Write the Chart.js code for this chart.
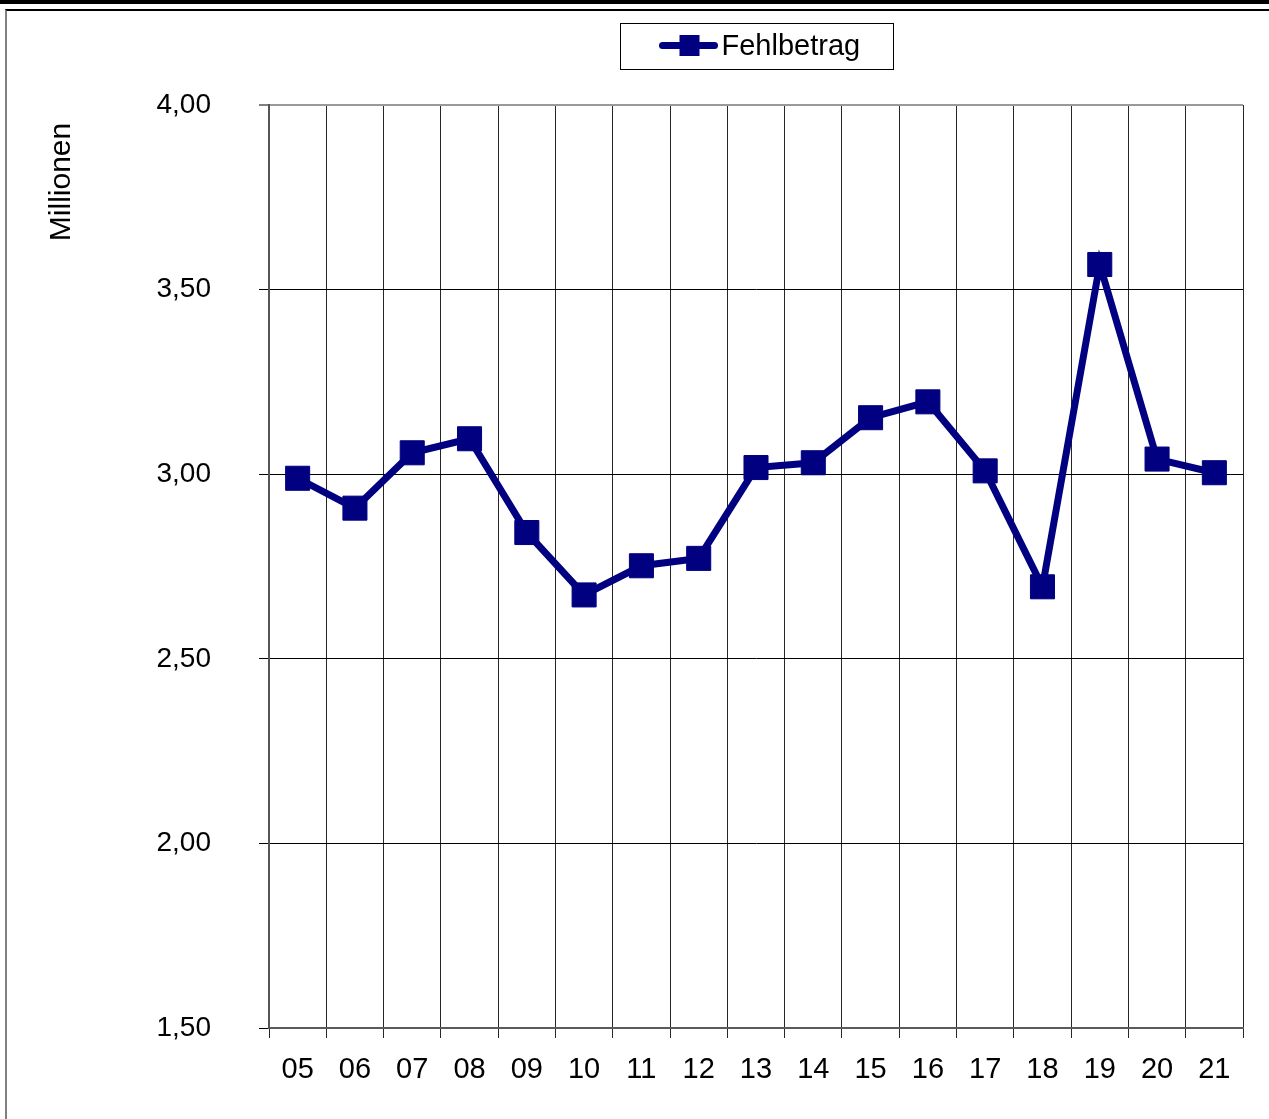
<!DOCTYPE html>
<html lang="de">
<head>
  <meta charset="UTF-8">
  <title>Fehlbetrag</title>
  <script src="https://cdn.jsdelivr.net/npm/chart.js"></script>
  <style>
    html, body { margin: 0; padding: 0; background: #fff; }
    #wrap { position: relative; width: 1269px; height: 1119px; overflow: hidden; }
    #topbar { position: absolute; left: 0; top: 0; width: 1269px; height: 4px; background: #000; }
    #frame { position: absolute; left: 5px; top: 9px; right: 0; bottom: 0;
             border-top: 2px solid #000; border-left: 2px solid #808080; }
    #chart { position: absolute; left: 0; top: 0; }
  </style>
</head>
<body>
  <div id="wrap">
    <div id="topbar"></div>
    <div id="frame"></div>
    <canvas id="chart" width="1269" height="1119"></canvas>
  </div>

  <script>
    // Jahre (Kategorien) und Werte in Millionen
    const years = ['05', '06', '07', '08', '09', '10', '11', '12', '13', '14', '15', '16', '17', '18', '19', '20', '21'];
    const fehlbetrag = [2.989, 2.908, 3.058, 3.096, 2.842, 2.673, 2.752, 2.772, 3.018, 3.031, 3.153, 3.196, 3.009, 2.695, 3.568, 3.041, 3.004];
    const yTicks = [1.5, 2.0, 2.5, 3.0, 3.5, 4.0];
    const seriesName = 'Fehlbetrag';
    const axisTitle = 'Millionen';

    const NAVY = '#000080';
    const font = "'Liberation Sans', Arial, sans-serif";

    // Legende mit Rahmen + Achsentitel
    const decor = {
      id: 'decor',
      afterDraw(chart) {
        const ctx = chart.ctx;
        const ca = chart.chartArea;
        ctx.save();

        // Legende
        const cx = (ca.left + ca.right) / 2;
        const bw = 273, bh = 46;
        const bx = Math.round(cx - bw / 2) + 0.5, by = 23.5;
        ctx.strokeStyle = '#000';
        ctx.lineWidth = 1;
        ctx.strokeRect(bx, by, bw, bh);
        const my = by + 22;
        ctx.strokeStyle = NAVY;
        ctx.lineWidth = 7;
        ctx.lineCap = 'round';
        ctx.beginPath();
        ctx.moveTo(bx + 42, my);
        ctx.lineTo(bx + 94, my);
        ctx.stroke();
        ctx.fillStyle = NAVY;
        ctx.fillRect(bx + 59, my - 10.5, 20, 21);
        ctx.fillStyle = '#000';
        ctx.font = '29px ' + font;
        ctx.textAlign = 'left';
        ctx.textBaseline = 'middle';
        ctx.fillText(seriesName, bx + 101, my + 1);

        // Achsentitel
        ctx.translate(62, 182);
        ctx.rotate(-Math.PI / 2);
        ctx.textAlign = 'center';
        ctx.font = '30px ' + font;
        ctx.fillText(axisTitle, 0, 0);
        ctx.restore();
      }
    };

    const fmt = v => v.toFixed(2).replace('.', ',');

    new Chart(document.getElementById('chart').getContext('2d'), {
      type: 'line',
      data: {
        labels: years,
        datasets: [{
          label: seriesName,
          data: fehlbetrag,
          borderColor: NAVY,
          backgroundColor: NAVY,
          borderWidth: 7,
          tension: 0,
          pointStyle: 'rect',
          pointRadius: 17,
          pointBorderWidth: 1,
          pointBorderColor: NAVY,
          pointBackgroundColor: NAVY
        }]
      },
      options: {
        responsive: false,
        animation: false,
        layout: { padding: { top: 105, right: 26, bottom: 0, left: 0 } },
        plugins: {
          legend: { display: false },
          tooltip: { enabled: false }
        },
        scales: {
          x: {
            offset: true,
            grid: {
              offset: true,
              color: ctx => ctx.index === years.length ? '#8a8a8a' : '#262626',
              lineWidth: ctx => ctx.index === years.length ? 3 : 1,
              tickLength: 10,
              tickColor: '#262626',
              tickWidth: 1
            },
            border: { color: '#5a5a5a', width: 2 },
            ticks: {
              color: '#000',
              font: { family: font, size: 29 },
              padding: 15,
              autoSkip: false,
              maxRotation: 0
            },
            afterFit: s => { s.height = 91; s.paddingLeft = 0; s.paddingRight = 0; }
          },
          y: {
            min: yTicks[0],
            max: yTicks[yTicks.length - 1],
            afterBuildTicks: s => { s.ticks = yTicks.map(v => ({ value: v })); },
            grid: {
              color: ctx => ctx.tick && ctx.tick.value === 4 ? '#999' : '#000',
              lineWidth: ctx => ctx.tick && ctx.tick.value === 4 ? 2 : 1,
              tickLength: 10,
              tickColor: '#000',
              tickWidth: 1
            },
            border: { color: '#555', width: 2 },
            ticks: {
              color: '#000',
              font: { family: font, size: 28 },
              padding: 48,
              callback: v => fmt(v)
            },
            afterFit: s => { s.width = 269; s.paddingTop = 0; s.paddingBottom = 0; }
          }
        }
      },
      plugins: [decor]
    });
  </script>
</body>
</html>
